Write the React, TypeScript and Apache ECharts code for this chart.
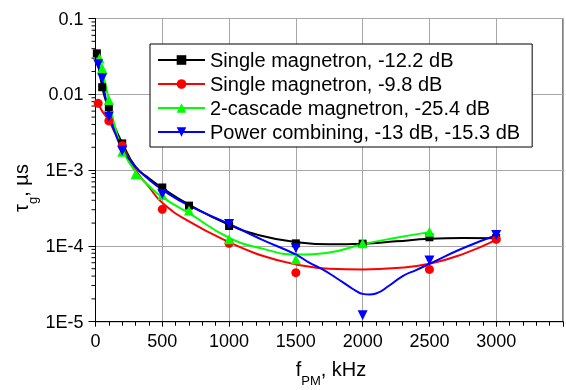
import React, { useEffect, useRef } from 'react';
import * as echarts from 'echarts';

const FONT = 'Arial, "Liberation Sans", sans-serif';

const seriesNames = [
  'Single magnetron, -12.2 dB',
  'Single magnetron, -9.8 dB',
  '2-cascade magnetron, -25.4 dB',
  'Power combining, -13 dB, -15.3 dB',
];
const seriesColors = ['#000000', '#ff0000', '#00ff00', '#0000ff'];
const seriesSymbols = ['rect', 'circle', 'triangle', 'triangle'];
const seriesSymbolRotate = [0, 0, 0, 180];
const seriesSymbolSize = [8, 9, 10, 10];

// measured points
const blackX = [10, 50, 100, 200, 500, 700, 1000, 1500, 2000, 2500, 3000];
const blackY = [0.0347, 0.0124, 0.0068, 0.00225, 0.00059, 0.00034, 0.000183, 0.000108, 0.000107, 0.00013, 0.000127];
const redX = [20, 100, 200, 500, 1000, 1500, 2500, 3000];
const redY = [0.0076, 0.00445, 0.0021, 0.000304, 0.000108, 0.0000443, 0.000049, 0.000122];
const greenX = [30, 50, 100, 200, 300, 500, 700, 1000, 1500, 2000, 2500];
const greenY = [0.0298, 0.022, 0.0084, 0.00175, 0.00088, 0.00047, 0.000292, 0.000122, 0.0000665, 0.000108, 0.000154];
const blueX = [20, 50, 100, 200, 500, 1000, 1500, 2000, 2500, 3000];
const blueY = [0.025, 0.0163, 0.0051, 0.0018, 0.000484, 0.000195, 0.000093, 0.0000122, 0.000064, 0.000139];

// fitted curves
const blackFitX = [10, 50, 100, 150, 200, 300, 400, 500, 700, 1000, 1250, 1500, 1750, 2000, 2250, 2500, 2750, 3000];
const blackFitY = [0.034, 0.0125, 0.0062, 0.0035, 0.0023, 0.0011, 0.00078, 0.00058, 0.00035, 0.00019, 0.000135, 0.000113, 0.000105, 0.000107, 0.000115, 0.000124, 0.000127, 0.000126];
const redFitX = [20, 50, 100, 150, 200, 300, 400, 500, 700, 1000, 1250, 1500, 1750, 2000, 2250, 2500, 2750, 3000];
const redFitY = [0.0075, 0.006, 0.0045, 0.003, 0.0021, 0.001, 0.0006, 0.00037, 0.00021, 0.000112, 0.000074, 0.000057, 0.00005, 0.000049, 0.000051, 0.000058, 0.000078, 0.00012];
const greenFitX = [30, 50, 100, 150, 200, 300, 400, 500, 700, 1000, 1250, 1500, 1750, 2000, 2250, 2500];
const greenFitY = [0.03, 0.021, 0.0085, 0.0035, 0.0019, 0.00095, 0.00062, 0.00044, 0.00027, 0.000128, 0.000092, 0.000077, 0.000082, 0.000105, 0.000128, 0.000152];
const blueFitX = [20, 50, 100, 150, 200, 300, 400, 500, 700, 1000, 1250, 1500, 1600, 1700, 1800, 1900, 1950, 2000, 2050, 2100, 2200, 2300, 2400, 2500, 2750, 3000];
const blueFitY = [0.026, 0.016, 0.0055, 0.003, 0.0019, 0.0011, 0.00075, 0.00055, 0.00034, 0.000195, 0.00012, 0.000077, 0.00006, 0.000049, 0.000038, 0.000029, 0.0000255, 0.0000233, 0.0000228, 0.0000235, 0.00003, 0.00004, 0.000048, 0.000058, 0.000093, 0.000138];

const pointsX = [blackX, redX, greenX, blueX];
const pointsY = [blackY, redY, greenY, blueY];
const fitsX = [blackFitX, redFitX, greenFitX, blueFitX];
const fitsY = [blackFitY, redFitY, greenFitY, blueFitY];

const xTickLabels = [0, 500, 1000, 1500, 2000, 2500, 3000];
const yTickExponents = [-5, -4, -3, -2, -1];
const yTickLabels = ['1E-5', '1E-4', '1E-3', '0.01', '0.1'];
const yMinorDecades = [-5, -4, -3, -2];
const yMinorMultipliers = [2, 3, 4, 5, 6, 7, 8, 9];

const zip = (xs: number[], ys: number[]) => xs.map((x, i) => [x, ys[i]]);

export default function App() {
  const ref = useRef<HTMLDivElement>(null);
  useEffect(() => {
    if (!ref.current) return;
    const chart = echarts.init(ref.current, undefined, { renderer: 'svg' });

    const minorData: number[][] = [];
    yMinorDecades.forEach((e) => yMinorMultipliers.forEach((m) => minorData.push([0, m * Math.pow(10, e)])));

    const fitSeries = seriesNames.map((n, i) => ({
      name: 'fit-' + i,
      type: 'line',
      data: zip(fitsX[i], fitsY[i]),
      smooth: 0.5,
      showSymbol: false,
      symbol: 'none',
      silent: true,
      z: 2,
      lineStyle: { color: seriesColors[i], width: 2 },
      itemStyle: { color: seriesColors[i] },
    }));
    const pointSeries = seriesNames.map((n, i) => ({
      name: n,
      type: 'line',
      data: zip(pointsX[i], pointsY[i]),
      symbol: seriesSymbols[i],
      symbolRotate: seriesSymbolRotate[i],
      symbolSize: seriesSymbolSize[i],
      showSymbol: true,
      showAllSymbol: true,
      clip: false,
      silent: true,
      z: 3,
      itemStyle: { color: seriesColors[i], borderWidth: 0 },
      lineStyle: { color: seriesColors[i], width: 2, opacity: 0 },
    }));

    chart.setOption({
      animation: false,
      grid: {
        left: 95.5,
        width: 515.9,
        top: 18.5,
        height: 303.2,
        show: true,
        borderColor: '#000',
        borderWidth: 1,
        backgroundColor: 'transparent',
      },
      xAxis: {
        type: 'value',
        min: 0,
        max: 3500,
        interval: 500,
        axisLine: { show: true, onZero: false, lineStyle: { color: '#000', width: 1 } },
        axisTick: { show: true, length: 5, lineStyle: { color: '#000' } },
        minorTick: { show: true, splitNumber: 5, length: 4, lineStyle: { color: '#000' } },
        splitLine: { show: true, lineStyle: { color: '#a8a8a8', width: 1 } },
        axisLabel: {
          fontSize: 18,
          margin: 10,
          color: '#000',
          fontFamily: FONT,
          formatter: (v: number) => (xTickLabels.indexOf(v) >= 0 ? String(v) : ''),
        },
      },
      yAxis: {
        type: 'log',
        logBase: 10,
        min: 1e-5,
        max: 0.1,
        axisLine: { show: true, onZero: false, lineStyle: { color: '#000', width: 1 } },
        axisTick: { show: true, length: 7, lineStyle: { color: '#000' } },
        splitLine: { show: true, lineStyle: { color: '#a8a8a8', width: 1 } },
        axisLabel: {
          fontSize: 18,
          margin: 12,
          color: '#000',
          fontFamily: FONT,
          formatter: (v: number) => {
            const e = Math.round(Math.log10(v));
            const idx = yTickExponents.indexOf(e);
            return idx >= 0 ? yTickLabels[idx] : '';
          },
        },
      },
      legend: {
        orient: 'vertical',
        left: 150,
        top: 44,
        padding: [6, 12, 5, 7],
        itemWidth: 47,
        itemHeight: 12,
        itemGap: 4,
        backgroundColor: '#fff',
        borderColor: '#000',
        borderWidth: 1,
        borderRadius: 0,
        selectedMode: false,
        textStyle: { fontSize: 20, lineHeight: 20, color: '#000', fontFamily: FONT },
        data: seriesNames.map((n, i) => ({
          name: n,
          lineStyle: { color: seriesColors[i], width: 2, opacity: 1 },
          itemStyle: { color: seriesColors[i] },
        })),
      },
      graphic: [
        {
          type: 'text',
          x: 11,
          y: 188,
          rotation: Math.PI / 2,
          silent: true,
          style: {
            text: '{a|τ}{b|g}{a|, µs}',
            align: 'center',
            verticalAlign: 'top',
            fill: '#000',
            rich: {
              a: { fontSize: 20, lineHeight: 20, fontFamily: FONT, verticalAlign: 'top', fill: '#000' },
              b: { fontSize: 13, lineHeight: 13, fontFamily: FONT, verticalAlign: 'top', padding: [15, 0, 0, 0], fill: '#000' },
            },
          },
        },
        {
          type: 'text',
          x: 331,
          y: 359,
          silent: true,
          style: {
            text: '{a|f}{b|PM}{a|, kHz}',
            align: 'center',
            verticalAlign: 'top',
            fill: '#000',
            rich: {
              a: { fontSize: 20, lineHeight: 20, fontFamily: FONT, verticalAlign: 'top', fill: '#000' },
              b: { fontSize: 13, lineHeight: 13, fontFamily: FONT, verticalAlign: 'top', padding: [15, 0, 0, 0], fill: '#000' },
            },
          },
        },
      ],
      series: [
        ...fitSeries,
        ...pointSeries,
        {
          type: 'custom',
          silent: true,
          clip: false,
          z: 1,
          data: minorData,
          renderItem: (params: any, api: any) => {
            const p = api.coord([0, api.value(1)]);
            return {
              type: 'line',
              shape: { x1: p[0] - 4, y1: p[1], x2: p[0], y2: p[1] },
              style: { stroke: '#000', lineWidth: 1 },
            };
          },
        },
      ],
    });
    return () => chart.dispose();
  }, []);
  return <div ref={ref} style={{ position: 'fixed', left: 0, top: 0, width: 566, height: 390 }} />;
}
